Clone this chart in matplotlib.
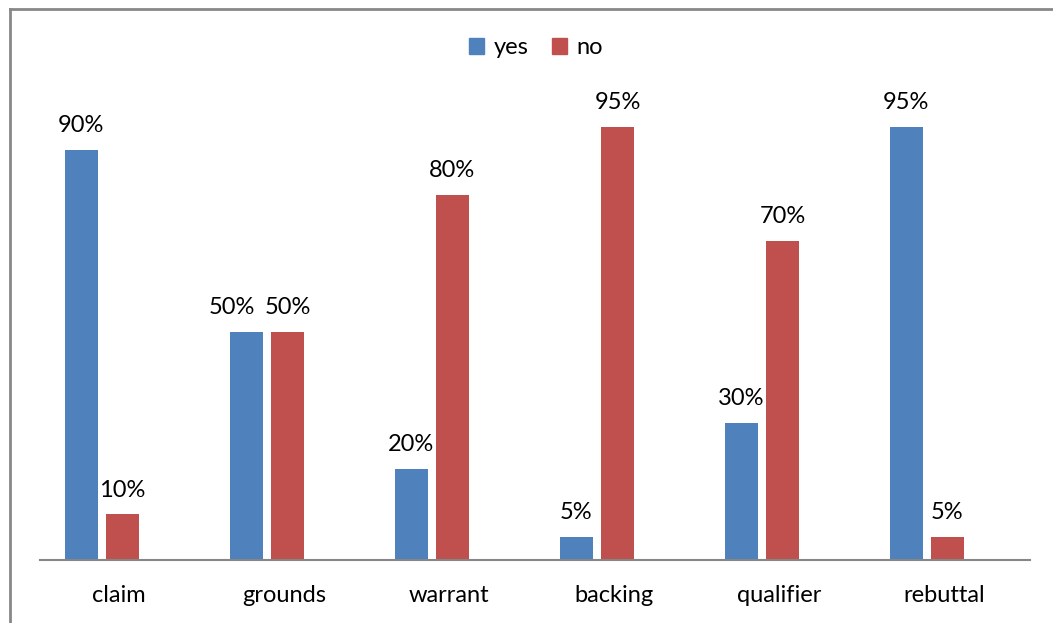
import matplotlib
matplotlib.use("Agg")
import matplotlib.pyplot as plt
from matplotlib.patches import Patch
from matplotlib.lines import Line2D
import numpy as np

categories = ["claim", "grounds", "warrant", "backing", "qualifier", "rebuttal"]
yes_vals = [90, 50, 20, 5, 30, 95]
no_vals = [10, 50, 80, 95, 70, 5]
series_names = ["yes", "no"]

BLUE = "#4F81BD"
RED = "#C0504D"
GRAY = "#868686"
plt.rcParams['font.family'] = ['Lato', 'DejaVu Sans']
FS = 17

W, H = 1053, 623
fig = plt.figure(figsize=(W / 100, H / 100), dpi=100)
ax = fig.add_axes([40 / W, 1 - 560 / H, 990 / W, 456 / H])

x = np.arange(len(categories))
bw = 0.2
ax.bar(x - 0.25, yes_vals, width=bw, color=BLUE, label=series_names[0])
ax.bar(x, no_vals, width=bw, color=RED, label=series_names[1])

for i, (xi, v) in enumerate(zip(x - 0.25, yes_vals)):
    # nudge the yes label left when both labels of a pair sit at the same height
    dx = -10 if v == no_vals[i] else 0
    ax.annotate(f"{v}%", (xi, v), xytext=(dx, 10), textcoords="offset points",
                ha="center", va="bottom", fontsize=FS, color="black")
for xi, v in zip(x, no_vals):
    ax.annotate(f"{v}%", (xi, v), xytext=(0, 10), textcoords="offset points",
                ha="center", va="bottom", fontsize=FS, color="black")

ax.set_xlim(-0.5, len(categories) - 0.5)
ax.set_ylim(0, 100)
ax.set_xticks(x - 0.02)
ax.set_xticklabels(categories, fontsize=FS)
ax.tick_params(axis="x", length=0, pad=18)
ax.set_yticks([])
for s in ["top", "right", "left"]:
    ax.spines[s].set_visible(False)
ax.spines["bottom"].set_color(GRAY)
ax.spines["bottom"].set_linewidth(1.5)

handles = [Patch(color=BLUE), Patch(color=RED)]
fig.legend(handles, series_names, loc="center", bbox_to_anchor=(536 / W, 1 - 48 / H),
           ncol=2, frameon=False, fontsize=FS, handlelength=0.65, handleheight=0.65,
           handletextpad=0.4, columnspacing=1.0)

# outer frame (left and top edges visible)
fig.add_artist(Line2D([10 / W, 10 / W], [0, 1 - 9 / H], transform=fig.transFigure, color="#888888", lw=2))
fig.add_artist(Line2D([10 / W, 1], [1 - 9 / H, 1 - 9 / H], transform=fig.transFigure, color="#888888", lw=2))

fig.savefig("out.png", dpi=100)
